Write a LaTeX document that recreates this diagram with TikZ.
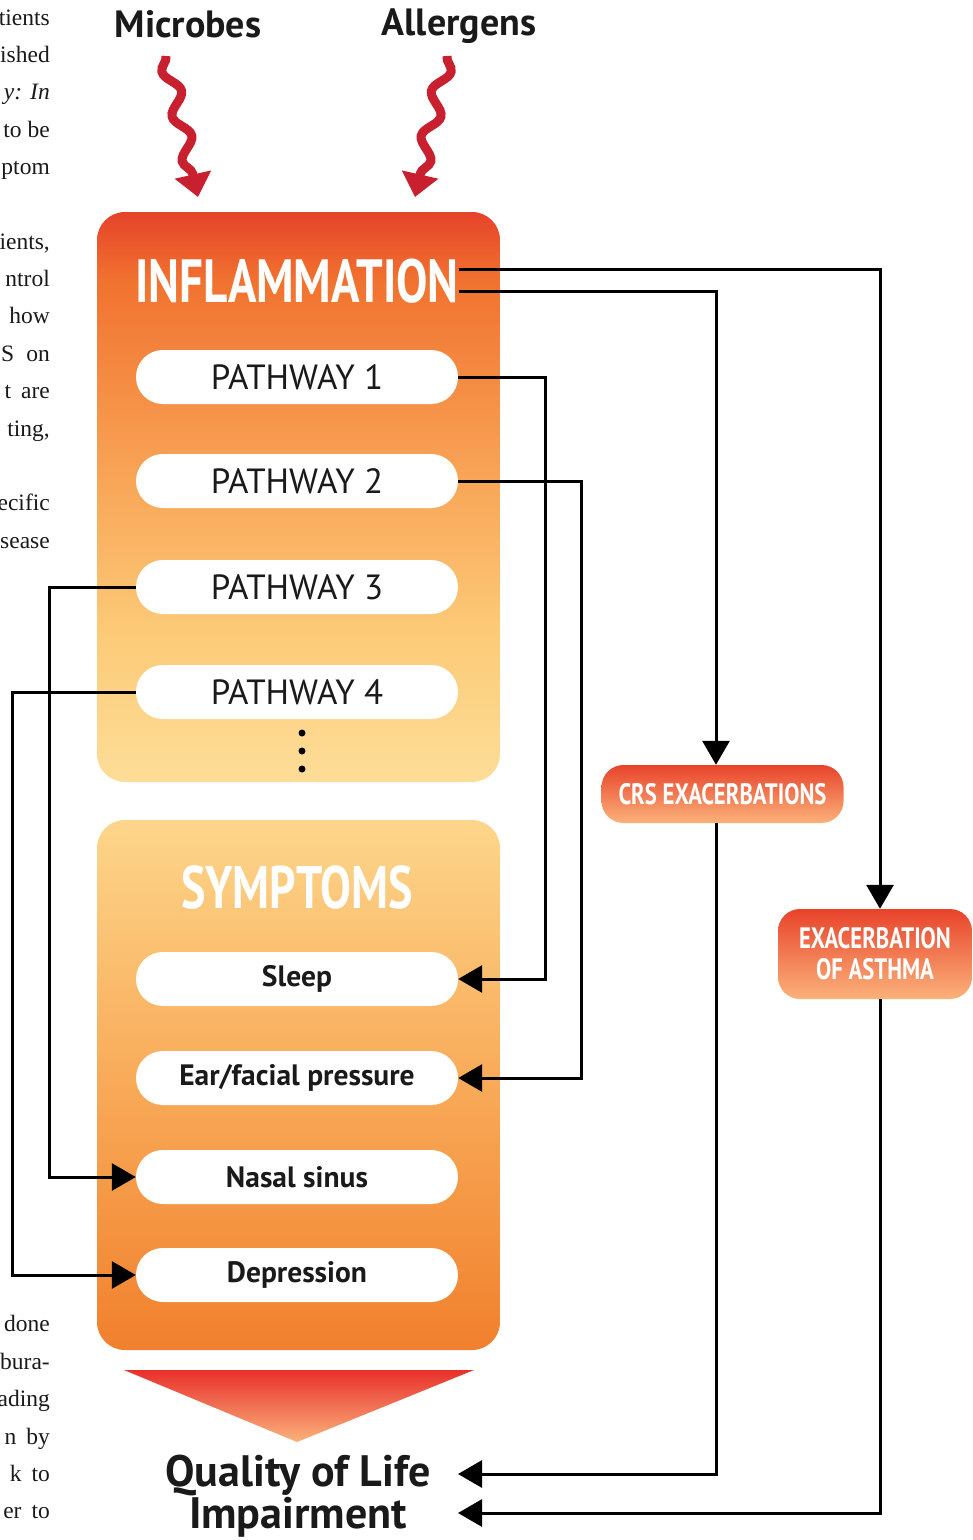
\documentclass[tikz,border=0pt]{standalone}
\usepackage{fontspec}
\setmainfont{PT Sans}
\newfontfamily\condfont{PT Sans}[FakeStretch=0.77]
\newfontfamily\serfont{Liberation Serif}
\usetikzlibrary{arrows.meta,decorations.pathmorphing}

\definecolor{iR}{HTML}{E5432A}
\definecolor{iO}{HTML}{F1722F}
\definecolor{iM}{HTML}{F8A456}
\definecolor{iL}{HTML}{FCCB78}
\definecolor{iY}{HTML}{FDDD98}
\definecolor{sT}{HTML}{FDD68B}
\definecolor{sM}{HTML}{F8AA58}
\definecolor{sB}{HTML}{F1802D}
\definecolor{wred}{HTML}{C8202F}
\definecolor{txt}{HTML}{1A1A1A}
\definecolor{pR}{HTML}{E8432B}
\definecolor{pO}{HTML}{F27A3A}
\definecolor{pL}{HTML}{FBB27A}
\definecolor{tR}{HTML}{E8302B}
\definecolor{tL}{HTML}{FAB27C}

\pgfdeclareverticalshading{inflsh}{100bp}{color(0bp)=(iY); color(25bp)=(iY); color(38bp)=(iL); color(52bp)=(iM); color(69bp)=(iO); color(75bp)=(iR); color(100bp)=(iR)}
\pgfdeclareverticalshading{symsh}{100bp}{color(0bp)=(sB); color(25bp)=(sB); color(50bp)=(sM); color(75bp)=(sT); color(100bp)=(sT)}

\begin{document}
\begin{tikzpicture}[x=1pt,y=-1pt,
  conn/.style={line width=3pt, draw=black, -{Triangle[length=24pt,width=27pt]}},
  bigbox/.style={rounded corners=28pt, minimum width=403pt, inner sep=0pt},
  pill/.style={fill=white, rounded corners=26.9pt, minimum width=322pt, minimum height=54pt, inner sep=0pt, text=txt},
  pathtxt/.style={font=\fontsize{35}{38}\selectfont},
  symtxt/.style={font=\fontsize{29.5}{32}\selectfont\bfseries},
  head/.style={text=white, inner sep=0pt, font=\condfont\fontsize{61}{64}\selectfont\bfseries},
  expill/.style={rounded corners=22pt, top color=pR, middle color=pO, bottom color=pL, text=white, inner sep=0pt, align=center, font=\condfont\fontsize{29.5}{31}\selectfont\bfseries},
  wave/.style={line width=9pt, draw=wred, decorate, decoration={snake, amplitude=7.5pt, segment length=46pt, post length=16pt}, -{Triangle[length=23pt,width=36pt]}},
  dot/.style={circle, fill=black, minimum size=7pt, inner sep=0pt},
  ttl/.style={text=txt, font=\fontsize{38}{42}\selectfont\bfseries, inner sep=0pt, anchor=base},
  qtxt/.style={text=txt, font=\fontsize{44}{48}\selectfont\bfseries, inner sep=0pt, anchor=base},
  frag/.style={anchor=base east, inner sep=0pt, text=txt, font=\serfont\fontsize{23.5}{26}\selectfont}
]
\useasboundingbox (0,0) rectangle (973,1540);
\clip (0,0) rectangle (973,1540);

% page text fragments
\node[frag] (f1) at (50,25) {tients};
\node[frag] (f2) at (50,62) {ished};
\node[frag] (f3) at (50,99) {\itshape y:\hspace{8pt}In};
\node[frag] (f4) at (50,137) {to be};
\node[frag] (f5) at (50,174) {ptom};
\node[frag] (f6) at (50,249) {ients,};
\node[frag] (f7) at (50,286) {ntrol};
\node[frag] (f8) at (50,323) {how};
\node[frag] (f9) at (50,361) {S\hspace{12pt}on};
\node[frag] (f10) at (50,398) {t\hspace{10pt}are};
\node[frag] (f11) at (50,436) {ting,};
\node[frag] (f12) at (50,510) {ecific};
\node[frag] (f13) at (50,548) {sease};
\node[frag] (f14) at (50,1331) {done};
\node[frag] (f15) at (50,1369) {bura-};
\node[frag] (f16) at (50,1406) {ading};
\node[frag] (f17) at (50,1444) {n\hspace{10pt}by};
\node[frag] (f18) at (50,1481) {k\hspace{10pt}to};
\node[frag] (f19) at (50,1518) {er\hspace{10pt}to};

% titles
\node[ttl] (micro) at (188,37) {Microbes};
\node[ttl] (aller) at (459,35) {Allergens};

% wavy arrows
\coordinate (w1s) at (166,56);
\coordinate (w1e) at (198,197);
\coordinate (w2s) at (447,56);
\coordinate (w2e) at (415,197);
\draw[wave, decoration={mirror}] (w1s) -- (w1e);
\draw[wave] (w2s) -- (w2e);

% inflammation box
\node[bigbox, minimum height=570pt, shading=inflsh] (inflbox) at (298.5,497) {};
\node[head, minimum width=322pt] (infl) at (297,281.5) {INFLAMMATION};
\node[pill, pathtxt] (p1) at (297,377) {PATHWAY 1};
\node[pill, pathtxt] (p2) at (297,481) {PATHWAY 2};
\node[pill, pathtxt] (p3) at (297,587) {PATHWAY 3};
\node[pill, pathtxt] (p4) at (297,692) {PATHWAY 4};
\node[dot] (d1) at (302,733) {};
\node[dot] (d2) at (302,751) {};
\node[dot] (d3) at (302,769) {};

% symptoms box
\node[bigbox, minimum height=530pt, shading=symsh] (symbox) at (298.5,1085) {};
\node[head, font=\condfont\fontsize{60}{64}\selectfont\bfseries] (sym) at (297,887) {SYMPTOMS};
\node[pill, symtxt] (s1) at (297,979) {Sleep};
\node[pill, symtxt] (s2) at (297,1078) {Ear/facial pressure};
\node[pill, symtxt] (s3) at (297,1177) {Nasal sinus};
\node[pill, symtxt] (s4) at (297,1275) {Depression};

% triangle
\shade[top color=tR, bottom color=tL] (124,1370) -- (474,1370) -- (297,1442) -- cycle;

% quality of life
\node[qtxt] (qol1) at (298,1486) {Quality of Life};
\node[qtxt] (qol2) at (298,1528) {Impairment};
\coordinate (qa) at (458,1474);
\coordinate (qb) at (458,1513);

% exacerbation pills
\node[expill, minimum width=242pt, minimum height=58pt] (crs) at (722.5,794) {CRS EXACERBATIONS};
\node[expill, minimum width=194pt, minimum height=90pt] (asth) at (875,954) {EXACERBATION\\OF ASTHMA};

% connectors
\draw[conn] ([yshift=12.5pt]infl.east) -| ([xshift=5pt]asth.north);
\draw[conn] ([yshift=-9.5pt]infl.east) -| ([xshift=-6.5pt]crs.north);
\draw[conn] ([xshift=-6.5pt]crs.south) |- (qa);
\draw[conn] ([xshift=5pt]asth.south) |- (qb);
\draw[conn] (p1.east) -- ++(87,0) |- (s1.east);
\draw[conn] (p2.east) -- ++(123,0) |- (s2.east);
\draw[conn] (p3.west) -- ++(-86,0) |- (s3.west);
\draw[conn] (p4.west) -- ++(-123,0) |- (s4.west);
\end{tikzpicture}
\end{document}
